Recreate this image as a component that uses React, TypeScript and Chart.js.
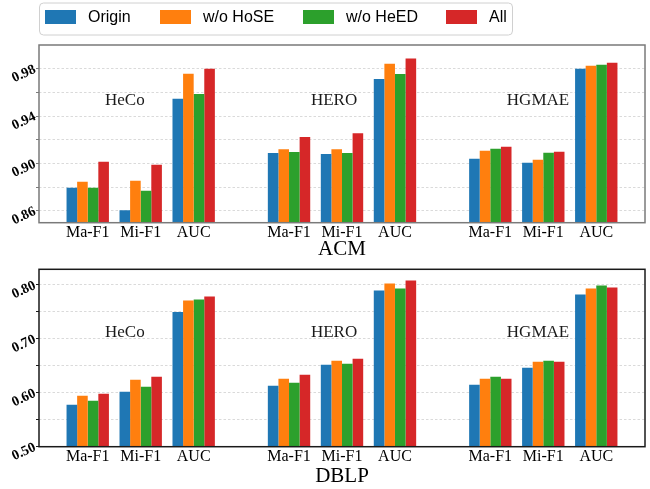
import React, { useEffect, useRef } from 'react';
import { Chart, registerables } from 'chart.js';

Chart.register(...registerables);

// ---- data ----
const seriesNames = ['Origin', 'w/o HoSE', 'w/o HeED', 'All'];
const seriesColors = ['#1f77b4', '#ff7f0e', '#2ca02c', '#d62728'];
const metricLabels = ['Ma-F1', 'Mi-F1', 'AUC'];
const modelNames = ['HeCo', 'HERO', 'HGMAE'];
const groupStarts = [0, 3.8, 7.6];

// order: HeCo(Ma,Mi,AUC), HERO(Ma,Mi,AUC), HGMAE(Ma,Mi,AUC)
const acmOrigin = [0.8794, 0.8606, 0.9546, 0.9088, 0.9079, 0.9713, 0.904, 0.9006, 0.98];
const acmNoHoSE = [0.8845, 0.8854, 0.9758, 0.9121, 0.9121, 0.9842, 0.9107, 0.9031, 0.9825];
const acmNoHeED = [0.8794, 0.8769, 0.9586, 0.9096, 0.9088, 0.9755, 0.9124, 0.909, 0.9834];
const acmAll = [0.9014, 0.8989, 0.98, 0.9223, 0.9256, 0.9885, 0.9141, 0.9099, 0.9851];

const dblpOrigin = [0.5777, 0.6019, 0.75, 0.613, 0.6519, 0.7895, 0.6148, 0.6463, 0.7821];
const dblpNoHoSE = [0.5944, 0.6241, 0.771, 0.626, 0.6593, 0.8025, 0.626, 0.6574, 0.7932];
const dblpNoHeED = [0.5852, 0.6111, 0.7728, 0.6186, 0.6537, 0.7932, 0.6297, 0.6593, 0.7988];
const dblpAll = [0.5981, 0.6297, 0.7784, 0.6334, 0.663, 0.808, 0.626, 0.6574, 0.7951];

const acmTicks = [0.86, 0.88, 0.9, 0.92, 0.94, 0.96, 0.98];
const acmTickLabels = [0.86, 0.9, 0.94, 0.98];
const dblpTicks = [0.5, 0.55, 0.6, 0.65, 0.7, 0.75, 0.8];
const dblpTickLabels = [0.5, 0.6, 0.7, 0.8];

const xPositions = groupStarts.flatMap((g) => metricLabels.map((_, m) => g + m));
const modelLabelX = [0.7, 4.65, 8.5];

const SERIF = '"Liberation Serif", "Times New Roman", serif';
const SANS = '"Liberation Sans", Arial, sans-serif';

type PanelCfg = {
  series: number[][];
  yMin: number;
  yMax: number;
  yTicks: number[];
  yLabelled: number[];
  title: string;
  padTop: number;
  xAxisHeight: number;
  frameColor: string;
  modelLabelY: number;
  legend: boolean;
};

const legendItemX = [45, 160, 303, 446];

const legendPlugin = {
  id: 'boxLegend',
  afterDraw(chart: any) {
    const ctx = chart.ctx as CanvasRenderingContext2D;
    ctx.save();
    const bx = 39.5, by = 3, bw = 473, bh = 32, r = 4;
    ctx.beginPath();
    ctx.moveTo(bx + r, by);
    ctx.lineTo(bx + bw - r, by);
    ctx.arcTo(bx + bw, by, bx + bw, by + r, r);
    ctx.lineTo(bx + bw, by + bh - r);
    ctx.arcTo(bx + bw, by + bh, bx + bw - r, by + bh, r);
    ctx.lineTo(bx + r, by + bh);
    ctx.arcTo(bx, by + bh, bx, by + bh - r, r);
    ctx.lineTo(bx, by + r);
    ctx.arcTo(bx, by, bx + r, by, r);
    ctx.closePath();
    ctx.fillStyle = '#ffffff';
    ctx.fill();
    ctx.strokeStyle = '#d0d0d0';
    ctx.lineWidth = 1;
    ctx.stroke();
    ctx.font = '16px ' + SANS;
    ctx.textBaseline = 'middle';
    ctx.textAlign = 'left';
    chart.data.datasets.forEach((ds: any, i: number) => {
      const x = legendItemX[i];
      ctx.fillStyle = ds.backgroundColor;
      ctx.fillRect(x, 10, 31, 14);
      ctx.fillStyle = '#000000';
      ctx.fillText(ds.label, x + 43, 18);
    });
    ctx.restore();
  },
};

function makePanel(canvas: HTMLCanvasElement, cfg: PanelCfg) {
  const framePlugin = {
    id: 'frame',
    afterDraw(chart: any) {
      const { ctx, chartArea } = chart;
      ctx.save();
      ctx.strokeStyle = cfg.frameColor;
      ctx.lineWidth = 1.5;
      ctx.strokeRect(chartArea.left, chartArea.top, chartArea.right - chartArea.left, chartArea.bottom - chartArea.top);
      ctx.restore();
    },
  };
  const modelLabelPlugin = {
    id: 'modelLabels',
    afterDatasetsDraw(chart: any) {
      const { ctx } = chart;
      const xs = chart.scales.x;
      const ys = chart.scales.y;
      ctx.save();
      ctx.font = '17px ' + SERIF;
      ctx.fillStyle = '#1a1a1a';
      ctx.textAlign = 'center';
      ctx.textBaseline = 'middle';
      modelNames.forEach((name, i) => {
        ctx.fillText(name, xs.getPixelForValue(modelLabelX[i]), ys.getPixelForValue(cfg.modelLabelY));
      });
      ctx.restore();
    },
  };

  const plugins: any[] = [framePlugin, modelLabelPlugin];
  if (cfg.legend) plugins.push(legendPlugin);

  return new Chart(canvas, {
    type: 'bar',
    data: {
      datasets: seriesNames.map((name, s) => ({
        label: name,
        data: xPositions.map((x, i) => ({ x, y: cfg.series[s][i] })),
        backgroundColor: seriesColors[s],
        borderWidth: 0,
        categoryPercentage: 0.8,
        barPercentage: 1.0,
      })),
    },
    options: {
      responsive: false,
      maintainAspectRatio: false,
      animation: false,
      devicePixelRatio: 1,
      layout: { padding: { top: cfg.padTop, left: 0, right: 5, bottom: 0 } },
      plugins: {
        legend: { display: false },
        tooltip: { enabled: false },
        title: { display: false },
      },
      scales: {
        x: {
          type: 'linear',
          min: -0.92,
          max: 10.52,
          offset: false,
          grid: { display: false, drawTicks: false, offset: false },
          border: { display: false },
          afterBuildTicks: (axis: any) => {
            axis.ticks = xPositions.map((v) => ({ value: v }));
          },
          afterFit: (axis: any) => {
            axis.height = cfg.xAxisHeight;
            axis.paddingLeft = 0;
            axis.paddingRight = 0;
          },
          ticks: {
            autoSkip: false,
            maxRotation: 0,
            minRotation: 0,
            padding: 2,
            color: '#000000',
            font: { family: SERIF, size: 16, lineHeight: 1 },
            callback: (value: any) => {
              const idx = xPositions.findIndex((p) => Math.abs(p - Number(value)) < 1e-6);
              return idx >= 0 ? metricLabels[idx % 3] : '';
            },
          },
          title: {
            display: true,
            text: cfg.title,
            color: '#000000',
            font: { family: SERIF, size: 21, lineHeight: 1.2 },
            padding: { top: 0, bottom: 0 },
          },
        },
        y: {
          type: 'linear',
          min: cfg.yMin,
          max: cfg.yMax,
          grid: {
            color: '#d0d0d0',
            lineWidth: 0.8,
            drawTicks: true,
            tickLength: 3,
            tickColor: cfg.frameColor,
            tickWidth: 1,
            tickBorderDash: [],
            borderDash: [2.5, 2],
          },
          border: { display: false, dash: [2.5, 2] },
          afterBuildTicks: (axis: any) => {
            axis.ticks = cfg.yTicks.map((v) => ({ value: v }));
          },
          afterFit: (axis: any) => {
            axis.width = 39;
            axis.paddingTop = 0;
            axis.paddingBottom = 0;
          },
          ticks: {
            minRotation: 25,
            maxRotation: 25,
            padding: 1,
            color: '#000000',
            font: { family: SERIF, size: 14, weight: 'bold' },
            callback: (value: any) => {
              const v = Number(value);
              return cfg.yLabelled.some((l) => Math.abs(l - v) < 1e-6) ? v.toFixed(2) : '';
            },
          },
        },
      },
    } as any,
    plugins,
  });
}

export default function App() {
  const topRef = useRef<HTMLCanvasElement>(null);
  const botRef = useRef<HTMLCanvasElement>(null);

  useEffect(() => {
    const c1 = makePanel(topRef.current!, {
      series: [acmOrigin, acmNoHoSE, acmNoHeED, acmAll],
      yMin: 0.85,
      yMax: 1.0,
      yTicks: acmTicks,
      yLabelled: acmTickLabels,
      title: 'ACM',
      padTop: 45,
      xAxisHeight: 39.3,
      frameColor: '#7a7a7a',
      modelLabelY: 0.9535,
      legend: true,
    });
    const c2 = makePanel(botRef.current!, {
      series: [dblpOrigin, dblpNoHoSE, dblpNoHeED, dblpAll],
      yMin: 0.5,
      yMax: 0.829,
      yTicks: dblpTicks,
      yLabelled: dblpTickLabels,
      title: 'DBLP',
      padTop: 7.3,
      xAxisHeight: 42.3,
      frameColor: '#1a1a1a',
      modelLabelY: 0.711,
      legend: false,
    });
    return () => {
      c1.destroy();
      c2.destroy();
    };
  }, []);

  return (
    <div style={{ position: 'fixed', left: 0, top: 0, width: 650, height: 489, background: '#ffffff' }}>
      <canvas ref={topRef} width={650} height={262} style={{ position: 'absolute', left: 0, top: 0, width: 650, height: 262 }} />
      <canvas ref={botRef} width={650} height={227} style={{ position: 'absolute', left: 0, top: 262, width: 650, height: 227 }} />
    </div>
  );
}
